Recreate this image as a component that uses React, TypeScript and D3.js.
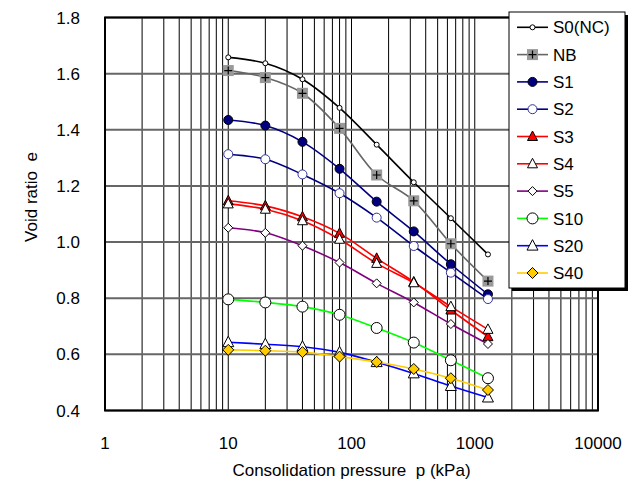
import * as d3 from "d3";
import React from "react";

// loading steps (kPa)
const pressures = [10, 20, 40, 80, 160, 320, 640, 1280];

const seriesNames = ["S0(NC)", "NB", "S1", "S2", "S3", "S4", "S5", "S10", "S20", "S40"];

const s0 = [1.658, 1.637, 1.58, 1.478, 1.347, 1.213, 1.085, 0.956];
const nb = [1.611, 1.586, 1.53, 1.405, 1.239, 1.147, 0.994, 0.861];
const s1 = [1.435, 1.415, 1.357, 1.261, 1.144, 1.038, 0.921, 0.814];
const s2 = [1.313, 1.295, 1.241, 1.174, 1.087, 0.986, 0.891, 0.797];
const s3 = [1.147, 1.129, 1.09, 1.031, 0.942, 0.858, 0.758, 0.663];
const s4 = [1.136, 1.117, 1.076, 1.01, 0.924, 0.855, 0.77, 0.689];
const s5 = [1.051, 1.033, 0.987, 0.927, 0.853, 0.785, 0.708, 0.637];
const s10 = [0.796, 0.785, 0.77, 0.741, 0.694, 0.642, 0.579, 0.515];
const s20 = [0.643, 0.636, 0.627, 0.607, 0.572, 0.532, 0.487, 0.446];
const s40 = [0.616, 0.613, 0.608, 0.592, 0.573, 0.548, 0.515, 0.473];

const seriesValues = [s0, nb, s1, s2, s3, s4, s5, s10, s20, s40];

const xTicks = [1, 10, 100, 1000, 10000];
const yTicks = [0.4, 0.6, 0.8, 1.0, 1.2, 1.4, 1.6, 1.8];

// line + marker look for each series
const styles = [
  { line: "#000000", shape: "circle", fill: "#fff", stroke: "#000", size: 2.5 },
  { line: "#666666", shape: "plus", fill: "#999", stroke: "#000", size: 5.5 },
  { line: "#000080", shape: "circle", fill: "#000080", stroke: "#000", size: 4.5 },
  { line: "#000080", shape: "circle", fill: "#fff", stroke: "#333399", size: 4.5 },
  { line: "#ff0000", shape: "triangle", fill: "#ff0000", stroke: "#000", size: 5 },
  { line: "#ff0000", shape: "triangle", fill: "#fff", stroke: "#000", size: 5 },
  { line: "#800080", shape: "diamond", fill: "#fff", stroke: "#000", size: 4.5 },
  { line: "#00ff00", shape: "circle", fill: "#fff", stroke: "#000", size: 5.5 },
  { line: "#0000ff", shape: "triangle", fill: "#fff", stroke: "#000", size: 5.5 },
  { line: "#ffcc00", shape: "diamond", fill: "#ffcc00", stroke: "#000", size: 5.5 },
];

const W = 642;
const H = 489;
const plot = { left: 105, right: 598, top: 17.5, bottom: 410.5 };
const font = "'Liberation Sans', Arial, Helvetica, sans-serif";
const fs = 17;

function Marker({ cx, cy, st }) {
  const r = st.size;
  if (st.shape === "circle") {
    return <circle cx={cx} cy={cy} r={r} fill={st.fill} stroke={st.stroke} strokeWidth={1} />;
  }
  if (st.shape === "plus") {
    return (
      <g>
        <rect x={cx - r} y={cy - r} width={2 * r} height={2 * r} fill={st.fill} />
        <path d={`M${cx - 4},${cy}H${cx + 4}M${cx},${cy - 4}V${cy + 4}`} stroke="#000" strokeWidth={1.2} />
      </g>
    );
  }
  if (st.shape === "triangle") {
    const p = `M${cx},${cy - r * 1.1}L${cx + r},${cy + r * 0.8}L${cx - r},${cy + r * 0.8}Z`;
    return <path d={p} fill={st.fill} stroke={st.stroke} strokeWidth={1} />;
  }
  const p = `M${cx},${cy - r}L${cx + r},${cy}L${cx},${cy + r}L${cx - r},${cy}Z`;
  return <path d={p} fill={st.fill} stroke={st.stroke} strokeWidth={1} />;
}

export default function App() {
  const x = d3.scaleLog().domain([1, 10000]).range([plot.left, plot.right]);
  const y = d3.scaleLinear().domain([0.4, 1.8]).range([plot.bottom, plot.top]);

  const line = d3
    .line<number>()
    .x((d, i) => x(pressures[i]))
    .y((d) => y(d))
    .curve(d3.curveCatmullRom.alpha(0.5));

  // 1..9 in every decade
  const minor: number[] = [];
  for (let dec = 1; dec < 10000; dec *= 10) {
    for (let k = 1; k <= 9; k++) minor.push(dec * k);
  }

  const legend = { x: 509, y: 12, w: 116, h: 276, row: 27.3 };

  return (
    <svg
      width={W}
      height={H}
      style={{ position: "absolute", left: 0, top: 0, background: "#fff" }}
      fontFamily={font}
    >
      <rect width={W} height={H} fill="#fff" />

      {/* grid */}
      {minor.map((v) => (
        <line key={"v" + v} x1={x(v)} x2={x(v)} y1={plot.top} y2={plot.bottom} stroke="#000" strokeWidth={1} />
      ))}
      {yTicks.map((v) => (
        <line key={"h" + v} x1={plot.left} x2={plot.right} y1={y(v)} y2={y(v)} stroke="#666" strokeWidth={2} />
      ))}

      <rect
        x={plot.left}
        y={plot.top}
        width={plot.right - plot.left}
        height={plot.bottom - plot.top}
        fill="none"
        stroke="#000"
        strokeWidth={2}
      />

      {/* series */}
      {seriesValues.map((vals, i) => (
        <path key={"l" + i} d={line(vals)} fill="none" stroke={styles[i].line} strokeWidth={1.6} />
      ))}
      {seriesValues.map((vals, i) => (
        <g key={"m" + i}>
          {vals.map((v, j) => (
            <Marker key={j} cx={x(pressures[j])} cy={y(v)} st={styles[i]} />
          ))}
        </g>
      ))}

      {/* axes labels */}
      {yTicks.map((v) => (
        <text key={"yt" + v} x={80} y={y(v)} dy="0.36em" textAnchor="end" fontSize={fs}>
          {v.toFixed(1)}
        </text>
      ))}
      {xTicks.map((v) => (
        <text key={"xt" + v} x={x(v)} y={448.5} textAnchor="middle" fontSize={fs}>
          {v}
        </text>
      ))}
      <text x={(plot.left + plot.right) / 2} y={476} textAnchor="middle" fontSize={fs} xmlSpace="preserve">
        Consolidation pressure  p (kPa)
      </text>
      <text
        transform={`translate(37,197) rotate(-90)`}
        textAnchor="middle"
        fontSize={fs}
        xmlSpace="preserve"
      >
        Void ratio  e
      </text>

      {/* legend */}
      <rect x={legend.x + 3} y={legend.y + 3} width={legend.w} height={legend.h} fill="#000" />
      <rect x={legend.x} y={legend.y} width={legend.w} height={legend.h} fill="#fff" stroke="#000" strokeWidth={1} />
      {seriesNames.map((name, i) => {
        const cy = legend.y + 15.3 + i * legend.row;
        return (
          <g key={"lg" + i}>
            <line x1={517} x2={548} y1={cy} y2={cy} stroke={styles[i].line} strokeWidth={1.6} />
            <Marker cx={532.5} cy={cy} st={styles[i]} />
            <text x={553} y={cy} dy="0.36em" fontSize={fs}>
              {name}
            </text>
          </g>
        );
      })}
    </svg>
  );
}
